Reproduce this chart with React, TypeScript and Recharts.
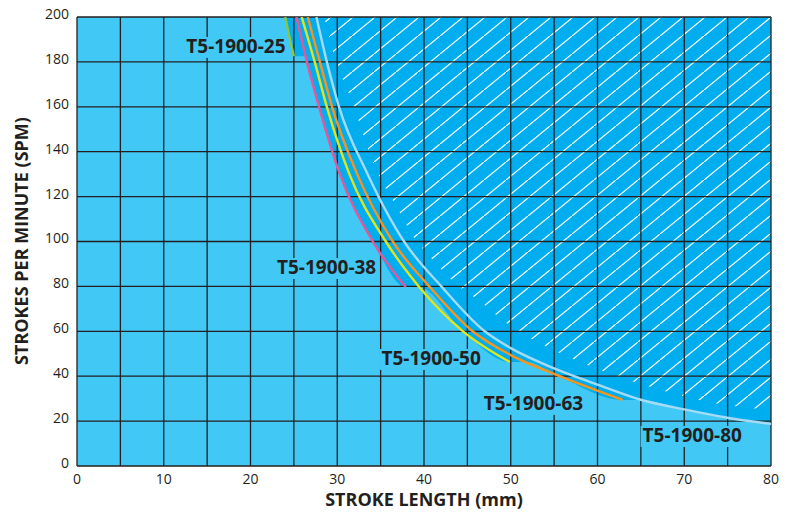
import React from 'react';
import { ComposedChart, Area, Line, XAxis, YAxis, ReferenceLine, ReferenceDot } from 'recharts';

type Pt = { l: number; s: number };

// stroke length (mm) -> max strokes per minute
const t25: Pt[] = [{ l: 24.0, s: 200 }, { l: 24.5, s: 191 }, { l: 25.0, s: 182.5 }];
const t38: Pt[] = [
  { l: 25.3, s: 200 }, { l: 26.5, s: 180 }, { l: 27.9, s: 160 }, { l: 30.3, s: 130 },
  { l: 34.1, s: 100 }, { l: 37.9, s: 79.7 },
];
const t50: Pt[] = [
  { l: 25.9, s: 200 }, { l: 27.4, s: 180 }, { l: 28.8, s: 160 }, { l: 31.4, s: 130 },
  { l: 35.6, s: 100 }, { l: 39.4, s: 80 }, { l: 44.5, s: 60 }, { l: 49.9, s: 46.3 },
];
const t63: Pt[] = [
  { l: 26.6, s: 200 }, { l: 28.0, s: 180 }, { l: 29.4, s: 160 }, { l: 32.3, s: 130 },
  { l: 36.4, s: 100 }, { l: 40.6, s: 80 }, { l: 45.6, s: 60 }, { l: 50, s: 49.4 },
  { l: 55, s: 41 }, { l: 62.9, s: 29.4 },
];
const t80: Pt[] = [
  { l: 27.6, s: 200 }, { l: 28.8, s: 180 }, { l: 30.2, s: 160 }, { l: 33.5, s: 130 },
  { l: 37.7, s: 100 }, { l: 42.0, s: 80 }, { l: 47.0, s: 60 }, { l: 50, s: 52.5 },
  { l: 55, s: 43.5 }, { l: 60, s: 36.3 }, { l: 65, s: 29.5 }, { l: 70, s: 25.2 },
  { l: 75, s: 21.5 }, { l: 80, s: 18.7 },
];

// where the dark zone's edge steps over from one model's curve to the next
const stepCorners: Pt[] = [{ l: 26.35, s: 182.5 }, { l: 39.4, s: 79.7 }, { l: 51.8, s: 46.3 }, { l: 64.9, s: 29.4 }];

// lower-left edge of the hatching
const hatchEdge: Pt[] = [
  { l: 28.5, s: 200 }, { l: 29.7, s: 182 }, { l: 31.5, s: 164.5 }, { l: 34.4, s: 132.6 },
  { l: 36.9, s: 115 }, { l: 38.8, s: 102 }, { l: 41.2, s: 91 }, { l: 43.6, s: 81.4 },
  { l: 46.5, s: 73.2 }, { l: 49.3, s: 64.3 }, { l: 52.6, s: 56.1 }, { l: 55.7, s: 50.2 },
  { l: 59.3, s: 44.2 }, { l: 64.1, s: 37.6 }, { l: 68.6, s: 32.4 }, { l: 73.5, s: 27.9 },
  { l: 77.9, s: 25.7 }, { l: 80, s: 25 },
];

const xTicks = [0, 10, 20, 30, 40, 50, 60, 70, 80];
const yTicks = [0, 20, 40, 60, 80, 100, 120, 140, 160, 180, 200];
const xGrid = [0, 5, 10, 15, 20, 25, 30, 35, 40, 45, 50, 55, 60, 65, 70, 75, 80];
const yGrid = yTicks;

const INK = '#231F20';
const LIGHT = '#41C8F4';
const DARK = '#00AEEF';
const FONT = '"Open Sans", sans-serif';

const models = [
  { name: 'T5-1900-25', data: t25, color: '#8DC63F', at: { l: 12.6, s: 184 } },
  { name: 'T5-1900-38', data: t38, color: '#E4579D', at: { l: 23.05, s: 85.5 } },
  { name: 'T5-1900-50', data: t50, color: '#E2E41B', at: { l: 35.1, s: 45 } },
  { name: 'T5-1900-63', data: t63, color: '#F7941D', at: { l: 46.9, s: 25 } },
  { name: 'T5-1900-80', data: t80, color: '#A6DBF5', at: { l: 65.2, s: 10.7 } },
];

// edge of the dark zone: the smallest model that still reaches a given SPM
const darkEdge: Pt[] = models.reduce<Pt[]>((acc, m, i) => {
  if (i === 0) return [...m.data];
  const prev = models[i - 1].data;
  const prevEnd = prev[prev.length - 1].s;
  return [...acc, stepCorners[i - 1], ...m.data.filter((p) => p.s < prevEnd)];
}, []);

const darkData = darkEdge.map((p) => ({ l: p.l, r: [p.s, 200] }));
const hatchData = hatchEdge.map((p) => ({ l: p.l, r: [p.s, 200] }));

const ModelLabel = ({ viewBox, text }: any) => {
  const x = viewBox.x + (viewBox.width || 0) / 2;
  const y = viewBox.y + (viewBox.height || 0) / 2;
  return (
    <g>
      <rect x={x - 2} y={y - 16} width={102} height={21} fill={LIGHT} />
      <text x={x} y={y} fill={INK} fontSize={19} fontWeight={700} fontFamily={FONT}>
        {text}
      </text>
    </g>
  );
};

export default function App() {
  return (
    <div style={{ position: 'absolute', left: 0, top: 0, background: '#fff' }}>
      <ComposedChart
        width={787}
        height={512}
        margin={{ top: 17, right: 16, bottom: 0, left: 0 }}
        style={{ fontFamily: FONT }}
      >
        <defs>
          <pattern id="hatch" patternUnits="userSpaceOnUse" width={22} height={18}>
            <rect width={22} height={18} fill={DARK} />
            <path d="M-2,19.64 L24,-1.64" stroke="#ffffff" strokeWidth={1.2} />
          </pattern>
        </defs>
        <XAxis
          type="number"
          dataKey="l"
          domain={[0, 80]}
          ticks={xTicks}
          allowDataOverflow
          axisLine={false}
          tickLine={false}
          height={46}
          tick={{ fill: INK, fontSize: 14, fontFamily: FONT }}
          label={{
            content: () => (
              <text x={424} y={506} textAnchor="middle" fill={INK} fontSize={18} fontWeight={700} fontFamily={FONT}>
                STROKE LENGTH (mm)
              </text>
            ),
          }}
        />
        <YAxis
          type="number"
          domain={[0, 200]}
          ticks={yTicks}
          allowDataOverflow
          axisLine={false}
          tickLine={false}
          width={77}
          tick={{ fill: INK, fontSize: 14, fontFamily: FONT, dy: -3 }}
          label={{
            content: () => (
              <text
                x={28}
                y={241}
                transform="rotate(-90 28 241)"
                textAnchor="middle"
                fill={INK}
                fontSize={18}
                fontWeight={700}
                fontFamily={FONT}
              >
                STROKES PER MINUTE (SPM)
              </text>
            ),
          }}
        />
        <Area
          data={[{ l: 0, r: [0, 200] }, { l: 80, r: [0, 200] }]}
          dataKey="r"
          type="linear"
          stroke="none"
          fill={LIGHT}
          fillOpacity={1}
          isAnimationActive={false}
        />
        <Area
          data={darkData}
          dataKey="r"
          type="monotone"
          stroke="none"
          fill={DARK}
          fillOpacity={1}
          isAnimationActive={false}
        />
        <Area
          data={hatchData}
          dataKey="r"
          type="monotone"
          stroke="none"
          fill="url(#hatch)"
          fillOpacity={1}
          isAnimationActive={false}
        />
        {xGrid.map((v) => (
          <ReferenceLine key={'gx' + v} x={v} stroke={INK} strokeWidth={1.3} zIndex={150} />
        ))}
        {yGrid.map((v) => (
          <ReferenceLine key={'gy' + v} y={v} stroke={INK} strokeWidth={1.3} zIndex={150} />
        ))}
        {models.map((m) => (
          <Line
            key={m.name}
            data={m.data}
            dataKey="s"
            type="monotone"
            stroke={m.color}
            strokeWidth={2.4}
            dot={false}
            activeDot={false}
            isAnimationActive={false}
          />
        ))}
        {models.map((m) => (
          <ReferenceDot
            key={'lab' + m.name}
            x={m.at.l}
            y={m.at.s}
            r={0}
            fill="none"
            stroke="none"
            label={{ content: (p: any) => <ModelLabel {...p} text={m.name} /> }}
          />
        ))}
      </ComposedChart>
    </div>
  );
}
